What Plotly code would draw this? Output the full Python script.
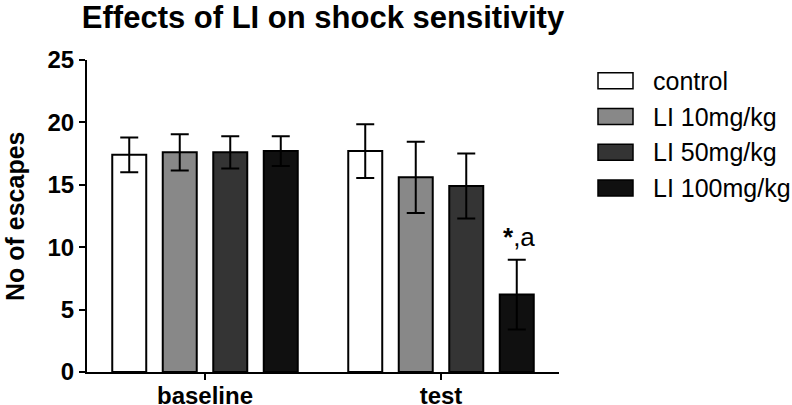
import plotly.graph_objects as go

# ---- data ----
categories = ["baseline", "test"]
series_names = ["control", "LI 10mg/kg", "LI 50mg/kg", "LI 100mg/kg"]
control = [17.4, 17.7]
li10 = [17.6, 15.6]
li50 = [17.6, 14.9]
li100 = [17.7, 6.2]
control_err = [1.4, 2.15]
li10_err = [1.45, 2.85]
li50_err = [1.3, 2.6]
li100_err = [1.2, 2.8]
y_ticks = [0, 5, 10, 15, 20, 25]
sig_label = "<b>*</b>,a"

values = [control, li10, li50, li100]
errors = [control_err, li10_err, li50_err, li100_err]
colors = ["#ffffff", "#888888", "#343434", "#101010"]

FONT = "Liberation Sans, Arial, sans-serif"

fig = go.Figure()
for name, v, e, c in zip(series_names, values, errors, colors):
    fig.add_trace(go.Bar(
        x=categories, y=v, name=name,
        marker=dict(color=c, line=dict(color="black", width=2)),
        error_y=dict(type="data", array=e, visible=True, color="black",
                     thickness=2, width=9),
        showlegend=False,
    ))

# plot area in pixels
L, R, T, B = 87, 559, 60, 372
W, H = R - L, B - T

def px_x(p):
    return (p - L) / W

def px_y(p):
    return (B - p) / H

# custom legend (boxes + labels)
legend_centers = [80.7, 116.5, 152.3, 188.1]
for name, c, cy in zip(series_names, colors, legend_centers):
    fig.add_shape(type="rect", xref="paper", yref="paper",
                  x0=px_x(598), x1=px_x(633), y0=px_y(cy + 8), y1=px_y(cy - 8),
                  fillcolor=c, line=dict(color="black", width=1.5))
    fig.add_annotation(xref="paper", yref="paper", x=px_x(651), y=px_y(cy),
                       text=name, showarrow=False, xanchor="left", yanchor="middle",
                       font=dict(family=FONT, size=25, color="black"))

# significance annotation above the test / LI 100mg/kg bar
fig.add_annotation(xref="paper", yref="y", x=px_x(519), y=li100[1] + li100_err[1] + 1.8,
                   text=sig_label, showarrow=False, xanchor="center", yanchor="middle",
                   font=dict(family=FONT, size=26, color="black"))

# y axis title
fig.add_annotation(xref="paper", yref="paper", x=px_x(15), y=0.5,
                   text="<b>No of escapes</b>", textangle=-90, showarrow=False,
                   xanchor="center", yanchor="middle",
                   font=dict(family=FONT, size=25, color="black"))

fig.update_layout(
    width=792, height=405,
    margin=dict(l=L, r=792 - R, t=T, b=405 - B, autoexpand=False),
    paper_bgcolor="white", plot_bgcolor="white",
    barmode="group", bargap=0.144, bargroupgap=0.327,
    title=dict(text="<b>Effects of LI on shock sensitivity</b>",
               x=0.5, xref="paper", xanchor="center",
               y=1 - 17 / 405, yref="container", yanchor="middle",
               font=dict(family=FONT, size=31, color="black")),
    font=dict(family=FONT, color="black"),
)

fig.update_xaxes(
    type="category", range=[-0.5, 1.5],
    showline=True, linecolor="black", linewidth=2,
    ticks="outside", ticklen=6, tickwidth=2, tickcolor="black",
    tickfont=dict(family=FONT, size=24, color="black"),
    tickvals=categories, ticktext=["<b>%s</b>" % c for c in categories],
    ticklabelstandoff=-5,
    showgrid=False, zeroline=False, automargin=False,
)
fig.update_yaxes(
    range=[0, 25], tickvals=y_ticks, ticktext=["<b>%d</b>" % t for t in y_ticks],
    showline=True, linecolor="black", linewidth=2,
    ticks="outside", ticklen=6, tickwidth=2, tickcolor="black",
    tickfont=dict(family=FONT, size=24, color="black"),
    showgrid=False, zeroline=False, automargin=False,
)

fig.write_html("out.html", config={"displayModeBar": False},
               post_script="document.body.style.margin='0';document.body.style.overflow='hidden';")
